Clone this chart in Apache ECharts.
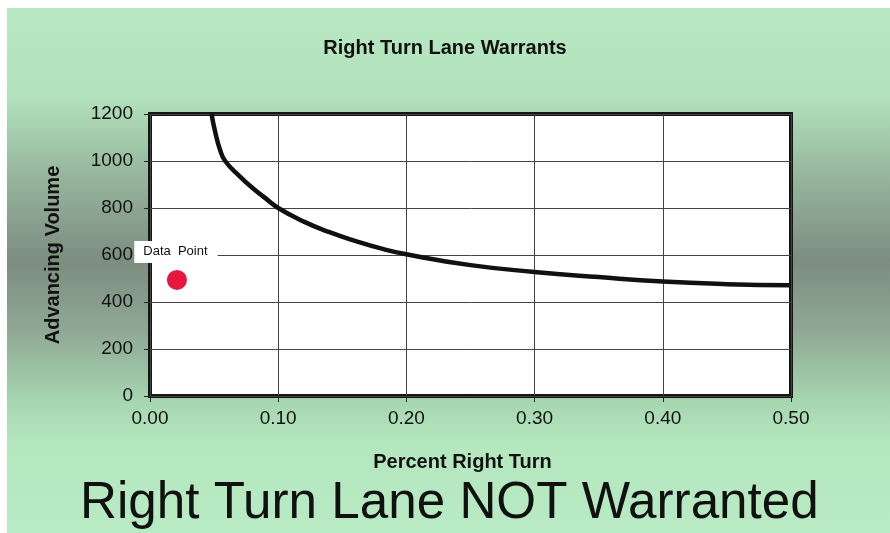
<!DOCTYPE html>
<html>
<head>
<meta charset="utf-8">
<script src="https://cdn.jsdelivr.net/npm/echarts@6/dist/echarts.min.js"></script>
<style>html,body{margin:0;padding:0;}#c{width:890px;height:533px;}</style>
</head>
<body>
<div id="c"></div>
<script>
// Data
const curveX = [0.048, 0.051, 0.0547, 0.0586, 0.07, 0.08, 0.09, 0.10, 0.12, 0.14, 0.16, 0.18, 0.20, 0.25, 0.30, 0.35, 0.40, 0.45, 0.50];
const curveY = [1200, 1120, 1047, 1000, 935, 885, 842, 800, 742, 697, 660, 628, 603, 557, 528, 506, 487, 476, 471];
const pointX = [0.021];
const pointY = [494];
const xTicks = [0, 0.1, 0.2, 0.3, 0.4, 0.5];
const yTicks = [0, 200, 400, 600, 800, 1000, 1200];
const chartTitle = 'Right Turn Lane Warrants';
const verdict = 'Right Turn Lane NOT Warranted';

const chart = echarts.init(document.getElementById('c'));
const FONT = 'Liberation Sans, Arial, sans-serif';
chart.setOption({
  backgroundColor: {
    type: 'linear', x: 0, y: 0, x2: 0, y2: 1,
    colorStops: [
      {offset: 0, color: '#b8e9c3'},
      {offset: 0.18, color: '#b2e2bc'},
      {offset: 0.35, color: '#93b099'},
      {offset: 0.49, color: '#7d8d80'},
      {offset: 0.62, color: '#8fa894'},
      {offset: 0.76, color: '#a8d8b2'},
      {offset: 0.84, color: '#b5e7bf'},
      {offset: 1, color: '#b8ebc3'}
    ]
  },
  animation: false,
  graphic: [
    {type: 'rect', shape: {x: 0, y: 0, width: 890, height: 8}, style: {fill: '#ffffff'}, z: 100},
    {type: 'rect', shape: {x: 0, y: 0, width: 7, height: 533}, style: {fill: '#ffffff'}, z: 100}
  ],
  title: [
    {text: chartTitle, left: 'center', top: 33,
     textStyle: {fontFamily: FONT, fontSize: 20, fontWeight: 'bold', color: '#111'}},
    {text: verdict, left: 75, top: 473,
     textStyle: {fontFamily: FONT, fontSize: 51.2, fontWeight: 'normal', color: '#111'}}
  ],
  grid: {left: 150, right: 99, top: 114, bottom: 137, show: true,
         backgroundColor: '#ffffff', borderColor: '#151515', borderWidth: 4},
  xAxis: {
    type: 'value', min: 0, max: 0.5, interval: 0.1,
    name: 'Percent Right Turn', nameLocation: 'middle', nameGap: 56,
    nameTextStyle: {fontFamily: FONT, fontSize: 20, fontWeight: 'bold', color: '#111', padding: [0, 16, 0, 0]},
    axisLine: {show: false},
    axisTick: {show: true, length: 6, lineStyle: {color: '#222'}},
    axisLabel: {fontFamily: FONT, fontSize: 19, color: '#111', margin: 13,
                formatter: v => v.toFixed(2)},
    splitLine: {show: true, lineStyle: {color: '#444', width: 1}}
  },
  yAxis: {
    type: 'value', min: 0, max: 1200, interval: 200,
    name: 'Advancing Volume', nameLocation: 'middle', nameGap: 87,
    nameTextStyle: {fontFamily: FONT, fontSize: 20, fontWeight: 'bold', color: '#111'},
    axisLine: {show: false},
    axisTick: {show: true, length: 6, lineStyle: {color: '#222'}},
    axisLabel: {fontFamily: FONT, fontSize: 19, color: '#111', margin: 17,
                formatter: v => String(v)},
    splitLine: {show: true, lineStyle: {color: '#444', width: 1}}
  },
  series: [
    {
      type: 'line', data: curveX.map((x, i) => [x, curveY[i]]),
      smooth: true, showSymbol: false,
      lineStyle: {color: '#111', width: 4.5}, z: 3
    },
    {
      type: 'scatter', data: pointX.map((x, i) => [x, pointY[i]]),
      symbolSize: 20, itemStyle: {color: '#e8173f', opacity: 1},
      label: {show: true, formatter: 'Data  Point', position: 'inside', offset: [-1, -28],
              fontFamily: FONT, fontSize: 13, color: '#111', backgroundColor: '#ffffff',
              padding: [5, 10, 4, 9], opacity: 1},
      emphasis: {disabled: true},
      z: 5
    }
  ]
});
</script>
</body>
</html>
